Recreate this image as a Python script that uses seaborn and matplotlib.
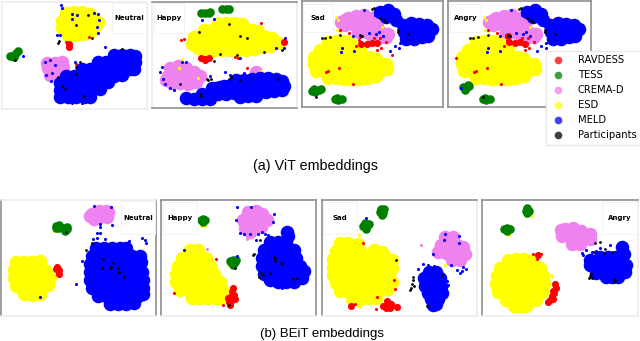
import matplotlib
matplotlib.use("Agg")
import matplotlib.pyplot as plt
import seaborn as sns
from matplotlib.lines import Line2D
from matplotlib.patches import Rectangle

# embeddings, one list per dataset and panel
# vit neutral
a1_crema = [(48,68),(55,63),(62,62),(50,75),(57,72),(63,68),(47,63)]
a1_esd = [(66,13),(74,12),(82,12),(90,14),(62,21),(70,20),(78,20),(86,20),(94,21),(98,22),(62,28),(70,28),(78,28),(86,28),(94,28),(68,35),(76,35),(84,34),(90,32)]
a1_meld = [(114,55),(122,55),(130,55),(135,56),(98,62),(106,62),(114,62),(122,62),(130,62),(135,62),(82,69),(90,69),(98,69),(106,69),(114,69),(122,69),(130,69),(134,69),
           (66,76),(74,76),(82,76),(90,76),(98,76),(106,76),(114,76),(122,75),(60,83),(68,83),(76,83),(84,83),(92,83),(100,83),(108,82),
           (60,90),(68,90),(76,90),(84,90),(92,90),(100,89),(60,97),(68,97),(76,97),(84,97),(90,97)]
a1_tess = [(18,51),(16,53),(12,56),(10,56),(14,57)]
a1_ravdess = [(69,44),(69,47)]
a1_dots_meld = [(61,5),(72,14),(77,15),(72,19),(94,13),(98,14),(99,20),(97,27),(57,35),(60,35),(98,33),(23,56),(50,60),(55,65),(45,62),(52,73),(46,75),(51,81),(75,62),(105,47),(62,8),(72,103),(82,103)]
a1_dots_black = [(88,15),(76,25),(58,43),(59,41),(92,38),(15,60),(80,62),(76,67),(76,74),(58,77),(62,86),(65,89),(84,96),(122,49)]
a1_dots_ravdess = [(89,37),(66,42),(76,64)]
# vit happy
a2_crema = [(170,68),(178,66),(186,68),(194,72),(168,76),(176,75),(184,75),(192,77),(200,76),(172,83),(180,83),(188,84),(196,82),(166,80),(256,72)]
a2_esd = [(218,23),(226,23),(234,23),(242,24),(204,30),(212,30),(220,30),(228,30),(236,30),(244,30),(252,30),(258,31),(194,37),(202,37),(210,37),(218,37),(226,37),(234,37),(242,37),(250,37),(258,37),(266,37),(272,38),
          (192,44),(200,44),(208,44),(216,44),(224,44),(232,44),(240,44),(248,44),(256,44),(264,44),(272,44),(279,43),(198,48),(206,50),(214,50),(222,50),(230,50),(238,50),(246,50),(254,49),(262,47),(270,46)]
a2_meld = [(236,80),(244,80),(252,79),(260,78),(268,78),(276,79),(282,81),(216,88),(224,86),(212,88),(220,87),(228,86),(236,86),(244,86),(252,86),(260,86),(268,86),(276,86),(284,86),(202,94),(210,94),(218,94),(226,94),(234,93),(242,93),(250,93),(258,93),(266,92),(274,91),(282,90),(186,98),(194,99),(202,99),(210,99),(240,97),(248,96),(256,96)]
a2_tess = [(201,13),(205,13),(209,13),(210,12),(222,9),(226,9),(229,9)]
a2_ravdess = [(201,58),(205,59),(209,58),(205,60),(284,42)]
a2_dots_meld = [(162,67),(160,72),(163,79),(165,84),(170,88),(174,90),(182,62),(186,62),(202,20),(214,19),(285,38),(284,48),(276,48),(240,58),(210,76),(225,72),(230,75),(232,82),(244,73)]
a2_dots_black = [(199,32),(229,24),(240,36),(247,38),(220,54),(237,55),(264,52),(282,50),(214,61),(207,79),(208,80),(211,79),(229,79),(231,77),(240,80),(278,79),(180,84),(200,94),(201,96)]
a2_dots_ravdess = [(181,40),(184,39),(235,57),(238,58),(247,68),(261,23)]
a2_dots_esd = [(182,59),(179,68),(198,78),(261,71),(204,53)]
# vit sad
a3_crema = [(348,18),(356,16),(364,15),(372,18),(345,25),(353,24),(361,24),(369,24),(377,26),(358,32),(366,32),(374,32),(382,33),(345,20),(388,34),(372,36),(380,37),(386,37),(341,22)]
a3_esd = [(328,42),(336,41),(344,41),(350,42),(320,50),(328,49),(336,49),(344,49),(352,49),(360,50),(314,57),(322,57),(330,57),(338,57),(346,57),(354,57),(362,57),(370,57),(376,59),
          (314,64),(322,64),(330,64),(338,64),(346,64),(354,64),(362,64),(370,64),(378,64),(386,64),(316,71),(324,71),(332,71),(340,71),(348,71),(356,71),(364,71),(372,71),(380,71),(387,69),(328,78),(336,78),(344,79),(352,79),(360,79),(368,78),(376,76)]
a3_meld = [(403,25),(411,23),(419,24),(427,25),(432,29),(404,32),(412,31),(420,31),(428,31),(406,39),(414,39),(422,37),(428,36),(380,12),(388,10),(394,14),(386,17),(396,20)]
a3_tess = [(312,91),(315,92),(319,90),(321,89),(314,89),(335,99),(338,100),(342,99),(337,98)]
a3_ravdess = [(361,44),(367,44),(372,43),(377,43)]
a3_dots_meld = [(342,48),(341,52),(354,51),(361,36),(369,33),(376,34),(379,32),(383,36),(375,15),(364,10),(400,43),(399,48),(395,46),(390,51),(353,36)]
a3_dots_black = [(322,38),(325,38),(330,37),(340,35),(360,35),(362,36),(374,8),(372,9),(380,18),(384,20),(386,22),(398,30),(398,32),(408,34),(316,97)]
a3_dots_ravdess = [(340,30),(349,33),(359,40),(356,46),(360,37),(374,38),(380,38),(381,48),(377,50),(386,42),(392,55),(328,71),(339,68),(353,84),(326,72)]
a3_dots_esd = [(336,17),(338,20),(337,30),(340,31),(310,58),(309,60),(321,86),(342,97),(328,27),(382,27)]
# vit angry
a4_crema = [(496,18),(504,16),(512,15),(520,18),(493,25),(501,24),(509,24),(517,24),(525,26),(506,32),(514,32),(522,32),(530,33),(493,20),(536,34),(520,36),(528,37),(534,37),(489,22)]
a4_esd = [(476,42),(484,41),(492,41),(498,42),(468,50),(476,49),(484,49),(492,49),(500,49),(508,50),(462,57),(470,57),(478,57),(486,57),(494,57),(502,57),(510,57),(518,57),(524,59),
          (462,64),(470,64),(478,64),(486,64),(494,64),(502,64),(510,64),(518,64),(526,64),(534,64),(464,71),(472,71),(480,71),(488,71),(496,71),(504,71),(512,71),(520,71),(528,71),(535,69),(476,78),(484,78),(492,79),(500,79),(508,79),(516,78),(524,76)]
a4_meld = [(550,25),(558,23),(566,24),(574,25),(579,29),(551,32),(559,31),(567,31),(575,31),(553,39),(561,39),(569,37),(575,36),(527,12),(535,10),(541,14),(533,17),(543,20)]
a4_tess = [(463,87),(466,88),(469,86),(465,90),(468,85),(483,99),(486,100),(490,99),(485,98)]
a4_ravdess = [(508,36),(509,42),(515,43),(520,42),(525,44)]
a4_dots_meld = [(488,48),(487,52),(500,51),(508,36),(516,33),(523,34),(526,32),(530,36),(522,15),(511,10),(546,43),(546,48),(541,46),(537,51),(500,36),(461,88)]
a4_dots_black = [(470,38),(473,38),(478,37),(488,35),(508,35),(510,36),(521,8),(519,9),(527,18),(531,20),(533,22),(545,30),(545,32),(555,34),(483,97)]
a4_dots_ravdess = [(488,30),(497,33),(507,40),(504,46),(522,38),(528,38),(529,48),(525,50),(534,42),(476,71),(487,68),(501,84),(474,72),(456,58)]
a4_dots_esd = [(484,17),(486,20),(485,30),(488,31),(458,58),(457,60),(469,84),(490,97),(476,27),(530,27)]
# beit neutral
b1_crema = [(92,214),(99,211),(106,211),(107,217),(98,218),(94,219),(90,216),(108,212)]
b1_esd = [(16,262),(24,262),(32,262),(40,261),(14,270),(22,270),(30,270),(38,270),(46,271),(14,278),(22,278),(30,278),(38,278),(46,278),(50,278),(16,286),(24,286),(32,286),(40,286),(48,285),(24,294),(32,295),(40,294)]
b1_meld = [(96,248),(104,248),(112,248),(120,248),(126,248),(92,256),(100,256),(108,256),(116,256),(124,256),(132,256),(140,256),(90,264),(98,264),(106,264),(114,264),(122,264),(130,264),(138,264),(141,262),
           (90,272),(98,272),(106,272),(114,272),(122,272),(130,272),(138,272),(142,272),(90,280),(98,280),(106,280),(114,280),(122,280),(130,280),(138,280),(143,280),(92,288),(100,288),(108,288),(116,288),(124,288),(132,288),(140,288),(143,288),
           (98,296),(106,296),(114,296),(122,296),(130,296),(138,296),(143,294),(110,304),(118,304),(126,304),(134,303)]
b1_tess = [(56,226),(59,225),(56,228),(59,228),(64,228),(67,227),(65,231),(67,229)]
b1_ravdess = [(57,267),(59,270),(59,274),(56,269)]
b1_dots_meld = [(94,206),(111,207),(100,224),(112,225),(100,227),(100,233),(97,233),(97,238),(105,239),(93,239),(142,238),(145,240),(146,243),(129,241),(82,261),(76,284),(85,280),(40,297)]
b1_dots_black = [(66,232),(92,243),(86,250),(103,259),(113,263),(111,267),(110,268),(102,268),(118,268),(119,272),(124,277)]
b1_dots_esd = [(54,231),(57,231)]
# beit happy
b2_crema = [(248,212),(256,211),(262,214),(243,220),(251,219),(259,220),(267,220),(245,228),(253,227),(261,227),(250,232)]
b2_esd = [(190,250),(198,250),(182,258),(190,258),(198,258),(206,258),(178,266),(186,266),(194,266),(202,266),(210,266),(176,274),(184,274),(192,274),(200,274),(208,274),(214,274),(176,282),(184,282),(192,282),(200,282),(208,282),(216,282),(220,282),
          (180,290),(188,290),(196,290),(204,290),(212,290),(220,290),(222,290),(192,298),(200,298),(208,298),(216,298),(220,298)]
b2_meld = [(270,242),(278,242),(286,242),(264,250),(272,250),(280,250),(288,250),(294,250),(262,258),(270,258),(278,258),(286,258),(294,258),(296,258),(262,266),(270,266),(278,266),(286,266),(294,266),(300,266),
           (264,274),(272,274),(280,274),(288,274),(296,274),(304,271),(270,280),(278,282),(286,282),(294,282),(302,278),(287,232),(288,236)]
b2_tess = [(201,220),(205,220),(203,222),(203,219),(231,262),(235,262),(233,260),(233,265),(230,261),(236,260)]
b2_ravdess = [(232,291),(234,295),(231,296),(228,298),(232,300),(229,302),(233,288),(235,299),(230,305)]
b2_dots_meld = [(184,250),(236,220),(237,207),(251,207),(274,214),(273,222),(240,233),(244,234),(250,234),(258,234),(262,232),(265,234),(268,235),(256,240),(237,256),(282,288)]
b2_dots_black = [(229,305),(235,268),(253,255),(254,254),(260,240),(274,257),(275,259),(275,261),(281,263),(282,264),(261,273),(263,275),(259,277),(293,279),(297,278),(270,273)]
b2_dots_ravdess = [(216,259),(223,305),(174,293)]
b2_dots_crema = [(207,249),(247,239)]
b2_dots_esd = [(201,226),(205,226),(228,265)]
# beit sad
b3_crema = [(445,237),(453,237),(441,245),(449,245),(457,245),(463,247),(438,252),(446,253),(454,253),(462,254),(465,254),(452,260),(460,260)]
b3_esd = [(340,243),(348,243),(358,244),(336,251),(344,251),(352,251),(360,251),(374,250),(382,252),(333,259),(341,259),(349,259),(357,259),(365,259),(373,259),(381,259),(389,259),(392,260),
          (333,267),(341,267),(349,267),(357,267),(365,267),(373,267),(381,267),(389,267),(392,268),(333,275),(341,275),(349,275),(357,275),(365,275),(373,275),(381,275),(389,275),
          (336,283),(344,283),(352,283),(360,283),(368,283),(376,283),(384,283),(392,282),(340,291),(348,291),(356,291),(364,291),(372,291),(380,291),(388,289),(352,299),(360,299),(368,298),(376,298)]
b3_meld = [(429,272),(436,272),(424,278),(432,278),(440,278),(425,286),(433,286),(441,286),(428,293),(436,293),(442,293),(431,299),(438,299),(433,305),(436,304)]
b3_tess = [(381,209),(384,209),(380,212),(383,213),(382,215),(363,226),(367,226),(365,223),(366,229),(369,224)]
b3_ravdess = [(383,306),(387,305),(391,304),(386,308),(390,308),(387,301),(351,306),(397,307)]
b3_dots_meld = [(366,218),(445,234),(444,240),(459,236),(459,243),(433,254),(423,264),(428,265),(434,266),(457,270),(460,273),(462,271),(466,269),(463,267),(418,269),(448,285),(447,286),(447,281),(451,265)]
b3_dots_black = [(396,260),(413,277),(413,280),(412,284),(414,286),(411,288),(410,290),(427,306),(442,275)]
b3_dots_ravdess = [(363,243),(394,280),(395,289),(377,297),(376,309),(355,304)]
b3_dots_esd = [(359,235),(371,226),(360,229),(445,265),(358,306),(360,307)]
b3_dots_crema = [(421,245)]
# beit angry
b4_crema = [(565,229),(573,228),(581,231),(562,236),(570,236),(578,237),(586,238),(590,239),(572,244),(580,244),(561,230),(590,234)]
b4_esd = [(508,260),(516,259),(524,259),(532,261),(500,268),(508,268),(516,268),(524,268),(532,268),(540,268),(497,276),(505,276),(513,276),(521,276),(529,276),(537,276),(543,276),
          (496,284),(504,284),(512,284),(520,284),(528,284),(536,284),(544,284),(498,292),(506,292),(514,292),(522,292),(530,292),(538,292),(542,292),(506,300),(514,300),(522,300),(530,300),(536,300),(514,306),(520,306),(526,306)]
b4_meld = [(600,257),(608,257),(616,257),(624,254),(590,265),(598,265),(606,265),(614,265),(622,265),(626,265),(596,273),(604,273),(612,273),(620,273),(625,272),(606,277),(612,277),(618,277),(622,247),(590,260)]
b4_tess = [(527,208),(526,211),(529,211),(527,213),(504,229),(507,228),(510,229),(507,231)]
b4_ravdess = [(555,284),(556,288),(553,291),(552,296),(550,300),(553,299),(548,302),(554,293),(538,255)]
b4_dots_meld = [(582,253),(586,250),(592,252),(583,255),(600,248),(596,251),(610,245),(625,244)]
b4_dots_black = [(590,276),(589,278),(591,274),(592,278),(614,279),(614,282),(615,280),(595,243),(600,242),(604,253),(605,249),(594,252),(612,252)]
b4_dots_ravdess = [(533,254),(541,254),(537,259)]
b4_dots_esd = [(526,216),(532,216),(506,234),(509,235),(551,275),(552,277)]

legend_names = ["RAVDESS", "TESS", "CREMA-D", "ESD", "MELD", "Participants"]
legend_colors = ["red", "green", "violet", "yellow", "blue", "black"]
big = 95
mid = 26
tess_size = 38
dot = 5
black_dot = 4


def pts(ax, points, color, size):
    if len(points) == 0:
        return
    sns.scatterplot(x=[p[0] for p in points], y=[p[1] for p in points], color=color, s=size,
                    linewidth=0, ax=ax, legend=False, clip_on=True)


def panel(box, label, tag, edge, crema, esd, meld, tess, ravdess, dots):
    left, top, right, bottom = box
    ax = fig.add_axes([left / 640, 1 - bottom / 341, (right - left) / 640, (bottom - top) / 341])
    ax.set_xlim(left, right)
    ax.set_ylim(bottom, top)
    ax.set_xticks([])
    ax.set_yticks([])
    for side, col in zip(["top", "right", "bottom", "left"], edge):
        ax.spines[side].set_color(col)
        ax.spines[side].set_linewidth(1.2)
    pts(ax, crema, "violet", big)
    pts(ax, dots.get("crema", []), "violet", dot)
    pts(ax, esd, "yellow", big)
    pts(ax, dots.get("esd", []), "yellow", dot)
    pts(ax, ravdess, "red", mid)
    pts(ax, dots.get("ravdess", []), "red", dot)
    pts(ax, tess, "green", tess_size)
    pts(ax, meld, "blue", big)
    pts(ax, dots.get("meld", []), "blue", dot)
    pts(ax, dots.get("black", []), "black", black_dot)
    ax.add_patch(Rectangle((tag[0], tag[1]), tag[2] - tag[0], tag[3] - tag[1], fc="white", ec="#f0f0f0", lw=0.6, zorder=5))
    ax.text((tag[0] + tag[2]) / 2, (tag[1] + tag[3]) / 2, label, fontsize=5, fontweight="bold", ha="center", va="center", zorder=6)


dark = "#8f8f8f"
pale = "#ececec"
fig = plt.figure(figsize=(6.4, 3.41), dpi=100)

panel((2, 2, 147, 109), "Neutral", (112, 3, 146, 33), (pale, pale, pale, pale), a1_crema, a1_esd, a1_meld, a1_tess, a1_ravdess,
      {"meld": a1_dots_meld, "black": a1_dots_black, "ravdess": a1_dots_ravdess})
panel((152, 2, 297, 108), "Happy", (154, 3, 184, 33), (dark, pale, dark, pale), a2_crema, a2_esd, a2_meld, a2_tess, a2_ravdess,
      {"meld": a2_dots_meld, "black": a2_dots_black, "ravdess": a2_dots_ravdess, "esd": a2_dots_esd})
panel((302, 1, 443, 107), "Sad", (303, 4, 333, 32), (dark, dark, dark, dark), a3_crema, a3_esd, a3_meld, a3_tess, a3_ravdess,
      {"meld": a3_dots_meld, "black": a3_dots_black, "ravdess": a3_dots_ravdess, "esd": a3_dots_esd})
panel((448, 1, 591, 107), "Angry", (450, 4, 481, 32), (dark, dark, dark, dark), a4_crema, a4_esd, a4_meld, a4_tess, a4_ravdess,
      {"meld": a4_dots_meld, "black": a4_dots_black, "ravdess": a4_dots_ravdess, "esd": a4_dots_esd})
panel((1, 200, 156, 316), "Neutral", (121, 201, 155, 234), (pale, dark, pale, dark), b1_crema, b1_esd, b1_meld, b1_tess, b1_ravdess,
      {"meld": b1_dots_meld, "black": b1_dots_black, "esd": b1_dots_esd})
panel((161, 200, 316, 316), "Happy", (163, 202, 197, 234), (dark, dark, pale, dark), b2_crema, b2_esd, b2_meld, b2_tess, b2_ravdess,
      {"meld": b2_dots_meld, "black": b2_dots_black, "ravdess": b2_dots_ravdess, "crema": b2_dots_crema, "esd": b2_dots_esd})
panel((322, 200, 477, 316), "Sad", (323, 202, 357, 234), (dark, pale, pale, dark), b3_crema, b3_esd, b3_meld, b3_tess, b3_ravdess,
      {"meld": b3_dots_meld, "black": b3_dots_black, "ravdess": b3_dots_ravdess, "esd": b3_dots_esd, "crema": b3_dots_crema})
panel((482, 200, 638, 316), "Angry", (602, 202, 637, 234), (dark, pale, pale, dark), b4_crema, b4_esd, b4_meld, b4_tess, b4_ravdess,
      {"meld": b4_dots_meld, "black": b4_dots_black, "ravdess": b4_dots_ravdess, "esd": b4_dots_esd})

handles = [Line2D([], [], ls="", marker="o", ms=5.5, mew=0, color=c, alpha=0.75) for c in legend_colors]
leg = fig.legend(handles, legend_names, loc="upper left", bbox_to_anchor=(545.5 / 640, 1 - 50.5 / 341), fontsize=7.2,
                 frameon=True, fancybox=False, borderaxespad=0, borderpad=0.45, labelspacing=0.5, handletextpad=1.2, handlelength=1.6)
leg.get_frame().set_edgecolor("#e8e8e8")
leg.get_frame().set_alpha(1)
leg.set_zorder(20)

fig.text(315.5 / 640, 1 - 166 / 341, "(a) ViT embeddings", fontsize=10.3, family="Liberation Sans", ha="center", va="center")
fig.text(321.5 / 640, 1 - 334 / 341, "(b) BEiT embeddings", fontsize=9.5, family="Liberation Sans", ha="center", va="center")

fig.savefig("out.png", dpi=100)
